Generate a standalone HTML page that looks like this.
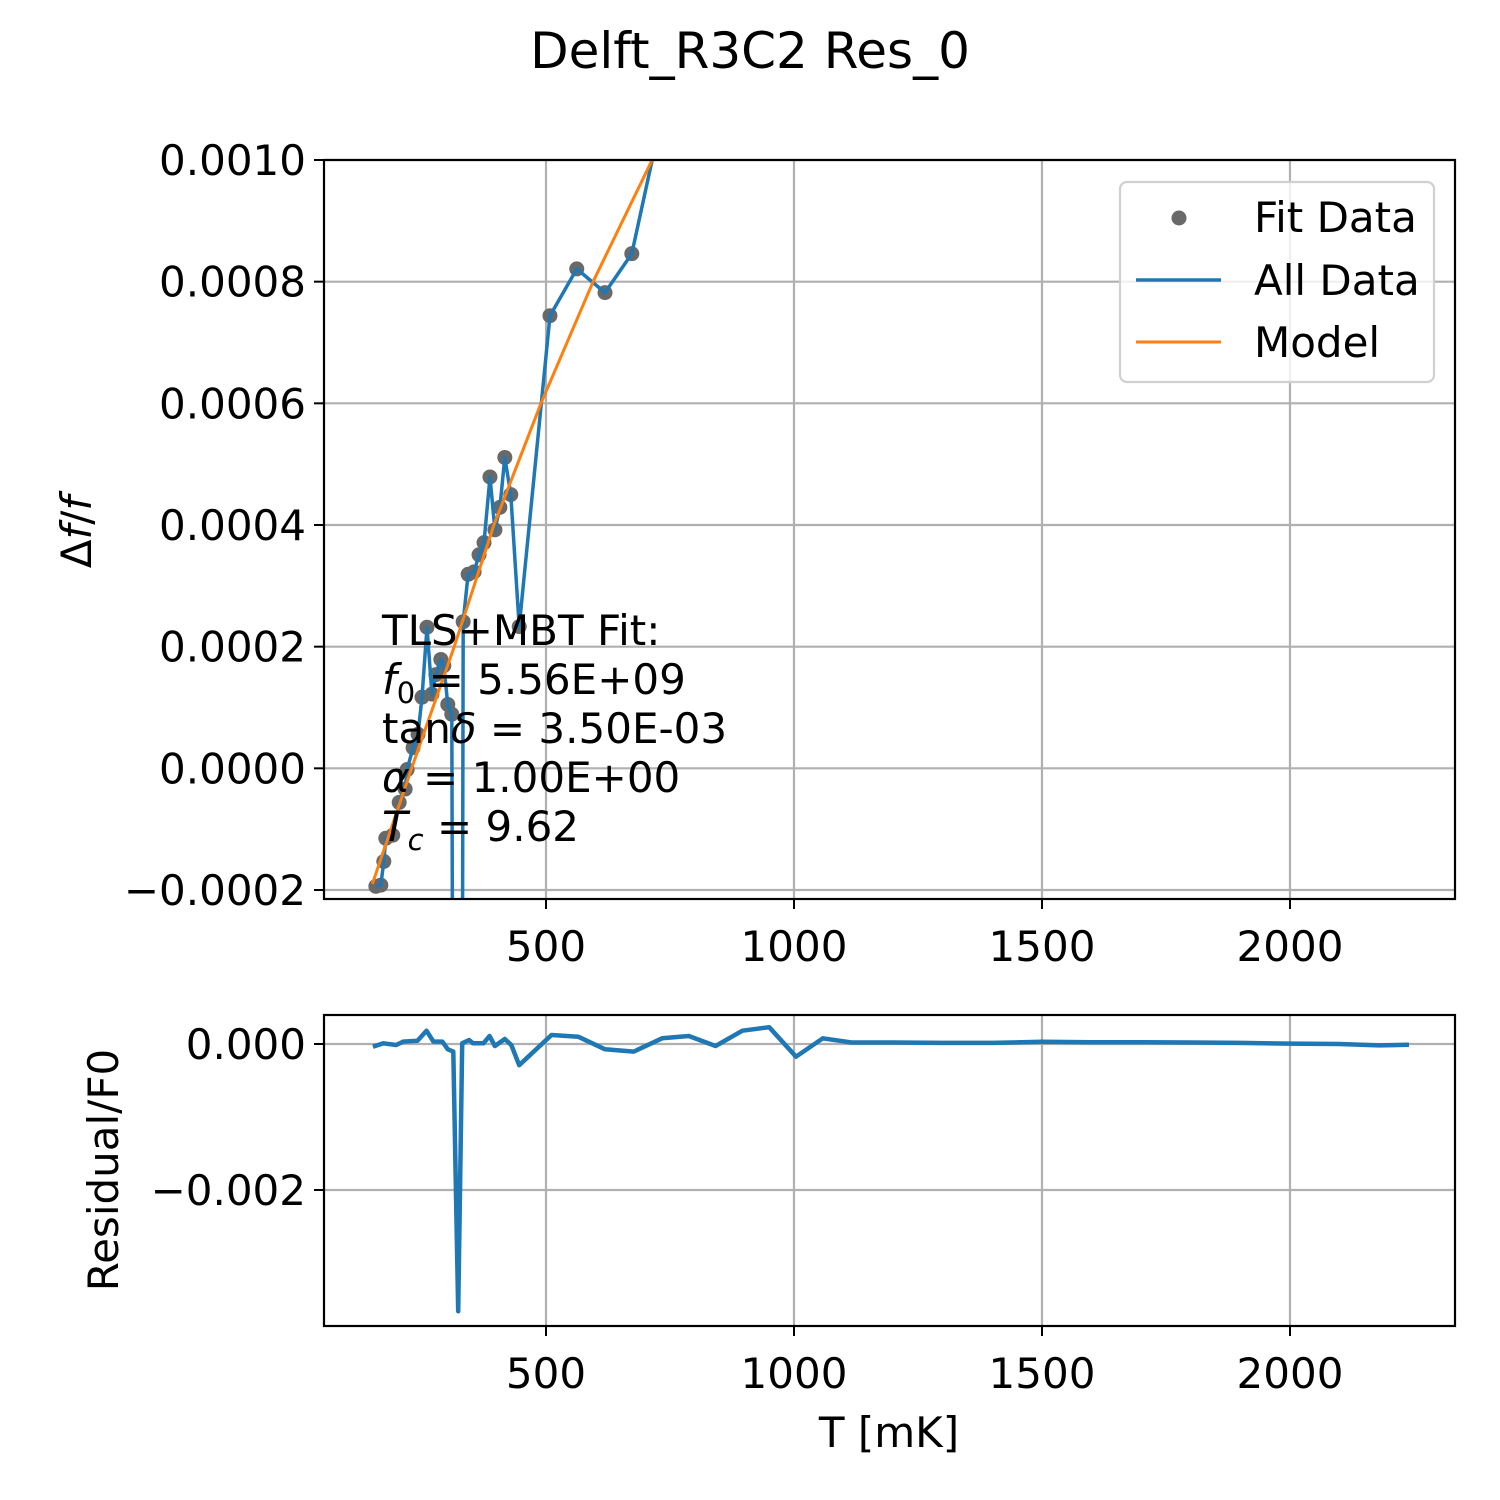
<!DOCTYPE html>
<html><head><meta charset="utf-8"><style>
html,body{margin:0;padding:0;background:#fff;width:1500px;height:1500px;overflow:hidden}
svg{display:block}
text{font-family:"DejaVu Sans","Liberation Sans",sans-serif;fill:#000}
</style></head><body>
<svg id="chart" width="1500" height="1500" viewBox="0 0 1500 1500" xmlns="http://www.w3.org/2000/svg">
<defs>
<clipPath id="clipTop"><rect x="324" y="160" width="1131" height="739"/></clipPath>
<clipPath id="clipBot"><rect x="324" y="1015" width="1131" height="311"/></clipPath>
</defs>
<text x="750" y="68" font-size="50" text-anchor="middle">Delft_R3C2 Res_0</text>
<g id="topAxes"></g>
<g id="botAxes"></g>
</svg>
<script>
// ---- data ----
const fitT = [157,167,173,177,191,204,216,220,232,242,250,260,270,278,288,294,302,310,323,333,343,355,365,375,387,397,407,417,429,446,508,562,619,673];
const fitV = [-0.000194,-0.000192,-0.000153,-0.000115,-0.00011,-0.000056,-0.000034,-0.000002,0.000034,0.000056,0.000117,0.000232,0.000122,0.000154,0.000179,0.000169,0.000105,0.000089,-0.0035,0.000241,0.000319,0.000323,0.000351,0.000371,0.000479,0.000392,0.000429,0.000511,0.00045,0.000233,0.000744,0.000821,0.000782,0.000846];
const allT = fitT.concat([730,790]);
const allV = fitV.concat([0.00106,0.00125]);
const modelT = [150,229,315,395,490,595,714,780];
const modelV = [-0.00019,0.0,0.0002,0.0004,0.0006,0.0008,0.001,0.00111];
const resT = [151,172,198,212,241,259,273,291,302,313,323,331,345,353,374,386,397,417,430,446,511,565,619,677,734,788,842,896,950,1004,1058,1116,1200,1300,1400,1500,1600,1700,1800,1900,2000,2100,2180,2240];
const resV = [-0.000037,0.00001,-0.000014,0.000032,0.000045,0.000182,0.000032,0.000032,-0.000073,-0.000105,-0.00366,0.00001,0.000055,0.00001,0.00001,0.00011,-0.000027,0.000068,-0.000014,-0.00029,0.000123,0.0001,-0.000073,-0.000105,0.000078,0.00011,-0.000027,0.000182,0.00023,-0.000174,0.000078,0.00002,0.00002,0.000015,0.000015,0.00003,0.000025,0.000025,0.00002,0.000015,0.000005,0,-0.00002,-0.00001];
const xTicks = [500,1000,1500,2000];
const xTickLabels = ["500","1000","1500","2000"];
const yTopTicks = [0.0010,0.0008,0.0006,0.0004,0.0002,0.0,-0.0002];
const yTopLabels = ["0.0010","0.0008","0.0006","0.0004","0.0002","0.0000","\u22120.0002"];
const yBotTicks = [0.0,-0.002];
const yBotLabels = ["0.000","\u22120.002"];

// ---- scales ----
const X0=324,X1=1455;
const xMin=52.4,xMax=2332.7;
const sx=v=>X0+(v-xMin)/(xMax-xMin)*(X1-X0);
const T0=160,T1=899,tMin=-0.0002148,tMax=0.0010;
const syT=v=>T1-(v-tMin)/(tMax-tMin)*(T1-T0);
const B0=1015,B1=1326,bMin=-0.003863,bMax=0.000397;
const syB=v=>B1-(v-bMin)/(bMax-bMin)*(B1-B0);

const NS="http://www.w3.org/2000/svg";
const FS=42;
function mk(tag,attrs,parent){const e=document.createElementNS(NS,tag);for(const k in attrs)e.setAttribute(k,attrs[k]);parent.appendChild(e);return e;}
const gTop=document.getElementById('topAxes'), gBot=document.getElementById('botAxes');

function axesFrame(g,y0,y1,yTicks,sy,pre){
  xTicks.forEach((t)=>{
    const l=mk('line',{x1:sx(t),x2:sx(t),y1:y0,y2:y1,stroke:'#b0b0b0','stroke-width':2.2},g);
    
    
  });
  yTicks.forEach((t)=>{
    const l=mk('line',{x1:X0,x2:X1,y1:sy(t),y2:sy(t),stroke:'#b0b0b0','stroke-width':2.2},g);
    
    
  });
}
function axesTicks(g,y0,y1,yTicks,yLabels,sy,pre){
  mk('rect',{x:X0,y:y0,width:X1-X0,height:y1-y0,fill:'none',stroke:'#000','stroke-width':2.2},g);
  xTicks.forEach((t,i)=>{
    mk('line',{x1:sx(t),x2:sx(t),y1:y1,y2:y1+10,stroke:'#000','stroke-width':2},g);
    const tx=mk('text',{x:sx(t),y:y1+62,'font-size':FS,'text-anchor':'middle'},g);
    tx.textContent=xTickLabels[i];
    
    
  });
  yTicks.forEach((t,i)=>{
    mk('line',{x1:X0-10,x2:X0,y1:sy(t),y2:sy(t),stroke:'#000','stroke-width':2},g);
    const tx=mk('text',{x:X0-18,y:sy(t)+15,'font-size':FS,'text-anchor':'end'},g);
    tx.textContent=yLabels[i];
    
    
  });
}
function pts(T,V,sy){return T.map((t,i)=>sx(t).toFixed(1)+','+sy(V[i]).toFixed(1)).join(' ');}

// top axes
axesFrame(gTop,T0,T1,yTopTicks,syT,'top-');
const tc=mk('g',{'clip-path':'url(#clipTop)'},gTop);
fitT.forEach((t,i)=>{
  const c=mk('circle',{cx:sx(t),cy:syT(fitV[i]),r:7.5,fill:'#696969'},tc);
  
  
});
const allLine=mk('polyline',{points:pts(allT,allV,syT),fill:'none',stroke:'#1f77b4','stroke-width':3.5,'stroke-linejoin':'round'},tc);


const modLine=mk('polyline',{points:pts(modelT,modelV,syT),fill:'none',stroke:'#ff7f0e','stroke-width':3,'stroke-linejoin':'round'},tc);


axesTicks(gTop,T0,T1,yTopTicks,yTopLabels,syT,'top-');

// annotation
const ann=mk('text',{x:382,'font-size':FS},gTop);


ann.innerHTML='<tspan x="382" y="645">TLS+MBT Fit:</tspan>'+
 '<tspan x="382" y="694"><tspan font-style="italic">f</tspan><tspan font-size="29" dy="9">0</tspan><tspan dy="-9"> = 5.56E+09</tspan></tspan>'+
 '<tspan x="382" y="743">tan<tspan font-style="italic">δ</tspan> = 3.50E-03</tspan>'+
 '<tspan x="382" y="792"><tspan font-style="italic">α</tspan> = 1.00E+00</tspan>'+
 '<tspan x="382" y="841"><tspan font-style="italic">T</tspan><tspan font-size="29" font-style="italic" dy="9">c</tspan><tspan dy="-9"> = 9.62</tspan></tspan>';

// legend
const lg=mk('g',{},gTop);


mk('rect',{x:1120,y:182,width:314,height:200,rx:7,fill:'rgba(255,255,255,0.8)',stroke:'#d0d0d0','stroke-width':2.2},lg);
mk('circle',{cx:1179,cy:218,r:7.5,fill:'#696969'},lg);
mk('line',{x1:1136,x2:1221,y1:280,y2:280,stroke:'#1f77b4','stroke-width':3.5},lg);
mk('line',{x1:1136,x2:1221,y1:342,y2:342,stroke:'#ff7f0e','stroke-width':3},lg);
[['Fit Data',232],['All Data',295],['Model',357]].forEach(([s,y])=>{
  const t=mk('text',{x:1254,y:y,'font-size':FS},lg);t.textContent=s;
  
  
});
const yl=mk('text',{x:0,y:0,'font-size':FS,'text-anchor':'middle',transform:'translate(91,532) rotate(-90)'},gTop);
yl.innerHTML='Δ<tspan font-style="italic">f</tspan>/<tspan font-style="italic">f</tspan>';



// bottom axes
axesFrame(gBot,B0,B1,yBotTicks,syB,'residual-');
const bc=mk('g',{'clip-path':'url(#clipBot)'},gBot);
const resLine=mk('polyline',{points:pts(resT,resV,syB),fill:'none',stroke:'#1f77b4','stroke-width':4.5,'stroke-linejoin':'round'},bc);


axesTicks(gBot,B0,B1,yBotTicks,yBotLabels,syB,'residual-');
const yl2=mk('text',{x:0,y:0,'font-size':FS,'text-anchor':'middle',transform:'translate(118,1170) rotate(-90)'},gBot);
yl2.textContent='Residual/F0';


const xl=mk('text',{x:889,y:1447,'font-size':FS,'text-anchor':'middle'},gBot);
xl.textContent='T [mK]';


</script>
</body></html>
